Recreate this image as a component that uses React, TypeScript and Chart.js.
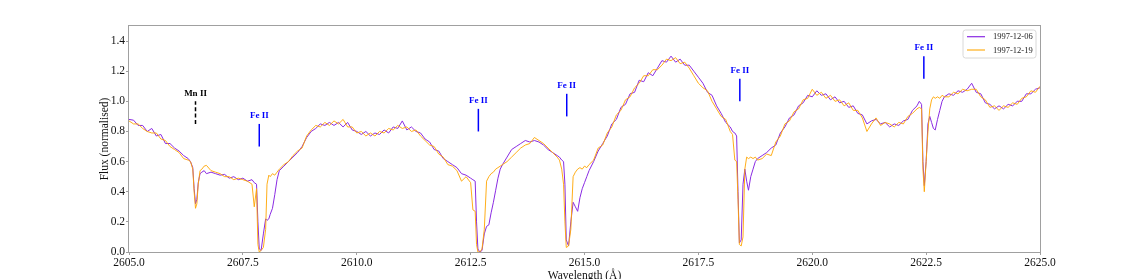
import { useEffect, useRef } from 'react';
import { Chart, registerables } from 'chart.js';

Chart.register(...registerables);

// Wavelength grid (Å)
const wavelength = [
  2605.0, 2605.1, 2605.2, 2605.3, 2605.4, 2605.5, 2605.6, 2605.7, 2605.8, 2605.9, 2606.0, 2606.1, 2606.2, 2606.3,
  2606.35, 2606.40, 2606.43, 2606.46, 2606.49, 2606.52, 2606.56, 2606.60, 2606.65, 2606.70,
  2606.8, 2606.9, 2607.0, 2607.1, 2607.2, 2607.3, 2607.4, 2607.5, 2607.6, 2607.7,
  2607.75, 2607.80, 2607.83, 2607.86, 2607.90, 2607.95, 2608.00, 2608.03, 2608.07, 2608.10, 2608.15, 2608.20, 2608.25, 2608.30,
  2608.4, 2608.5, 2608.6, 2608.7, 2608.8, 2608.9,
  2609.0, 2609.1, 2609.2, 2609.3, 2609.4, 2609.5, 2609.6, 2609.7, 2609.8, 2609.9,
  2610.0, 2610.1, 2610.2, 2610.3, 2610.4, 2610.5, 2610.6, 2610.7, 2610.8, 2610.9,
  2611.0, 2611.1, 2611.2, 2611.3, 2611.4, 2611.5, 2611.6, 2611.7, 2611.8, 2611.9,
  2612.0, 2612.1, 2612.2, 2612.3, 2612.4,
  2612.50, 2612.55, 2612.60, 2612.63, 2612.66, 2612.70, 2612.75, 2612.80, 2612.85, 2612.90, 2612.95, 2613.00, 2613.05, 2613.10, 2613.15, 2613.20,
  2613.3, 2613.4, 2613.5, 2613.6, 2613.7, 2613.8, 2613.9, 2614.0, 2614.1, 2614.2, 2614.3, 2614.4,
  2614.45, 2614.50, 2614.54, 2614.57, 2614.60, 2614.65, 2614.70, 2614.75, 2614.80, 2614.85, 2614.90, 2614.95, 2615.00, 2615.05, 2615.10, 2615.20,
  2615.3, 2615.4, 2615.5, 2615.6, 2615.7, 2615.8, 2615.9, 2616.0, 2616.1, 2616.2,
  2616.3, 2616.4, 2616.5, 2616.6, 2616.7, 2616.8, 2616.9, 2617.0, 2617.1, 2617.2,
  2617.3, 2617.4, 2617.5, 2617.6, 2617.7, 2617.8, 2617.9, 2618.0, 2618.1, 2618.2,
  2618.25, 2618.30, 2618.34, 2618.37, 2618.40, 2618.44, 2618.48, 2618.52, 2618.56, 2618.60, 2618.65, 2618.70, 2618.75, 2618.80, 2618.90,
  2619.0, 2619.1, 2619.2, 2619.3, 2619.4, 2619.5, 2619.6, 2619.7, 2619.8, 2619.9,
  2620.0, 2620.1, 2620.2, 2620.3, 2620.4, 2620.5, 2620.6, 2620.7, 2620.8, 2620.9,
  2621.0, 2621.1, 2621.2, 2621.3, 2621.4, 2621.5, 2621.6, 2621.7, 2621.8, 2621.9,
  2622.0, 2622.1, 2622.2, 2622.3,
  2622.35, 2622.40, 2622.43, 2622.46, 2622.50, 2622.54, 2622.58, 2622.62, 2622.66, 2622.70, 2622.75, 2622.80, 2622.85, 2622.90,
  2623.0, 2623.1, 2623.2, 2623.3, 2623.4, 2623.5, 2623.6, 2623.7, 2623.8, 2623.9,
  2624.0, 2624.1, 2624.2, 2624.3, 2624.4, 2624.5, 2624.6, 2624.7, 2624.8, 2624.9, 2625.0,
];

// Normalised flux, 1997-12-06 (purple)
const flux19971206 = [
  0.88, 0.875, 0.84, 0.84, 0.80, 0.82, 0.77, 0.78, 0.72, 0.72, 0.69, 0.67, 0.64, 0.62,
  0.60, 0.56, 0.42, 0.32, 0.35, 0.46, 0.52, 0.53, 0.54, 0.52,
  0.53, 0.52, 0.51, 0.515, 0.49, 0.50, 0.48, 0.49, 0.47, 0.48,
  0.46, 0.45, 0.20, 0.02, 0.01, 0.12, 0.22, 0.21, 0.22, 0.25, 0.29, 0.38, 0.48, 0.54,
  0.57, 0.60, 0.63, 0.66, 0.70, 0.76,
  0.80, 0.82, 0.85, 0.84, 0.86, 0.84, 0.86, 0.83, 0.86, 0.81,
  0.80, 0.78, 0.80, 0.77, 0.79, 0.78, 0.81, 0.79, 0.83, 0.82,
  0.87, 0.81, 0.83, 0.80, 0.79, 0.75, 0.73, 0.68, 0.67, 0.62,
  0.60, 0.58, 0.56, 0.52, 0.51,
  0.49, 0.48, 0.47, 0.20, 0.02, 0.00, 0.01, 0.12, 0.17, 0.18, 0.26, 0.33, 0.41, 0.49, 0.55, 0.58,
  0.63, 0.68, 0.70, 0.72, 0.74, 0.73, 0.74, 0.73, 0.71, 0.68, 0.66, 0.64,
  0.63, 0.61, 0.60, 0.45, 0.08, 0.04, 0.20, 0.33, 0.30, 0.27, 0.36, 0.42, 0.46, 0.50, 0.54, 0.60,
  0.67, 0.72, 0.77, 0.85, 0.88, 0.96, 0.98, 1.05, 1.06, 1.14,
  1.13, 1.19, 1.17, 1.22, 1.27, 1.26, 1.30, 1.26, 1.28, 1.24,
  1.24, 1.20, 1.16, 1.12, 1.06, 1.04, 0.97, 0.92, 0.86, 0.83,
  0.80, 0.79, 0.77, 0.40, 0.06, 0.08, 0.45, 0.55, 0.47, 0.41, 0.50, 0.55, 0.60, 0.62, 0.64,
  0.66, 0.69, 0.71, 0.79, 0.83, 0.89, 0.91, 0.97, 0.99, 1.04,
  1.03, 1.07, 1.04, 1.05, 1.01, 1.03, 0.99, 1.00, 0.96, 0.97,
  0.92, 0.91, 0.85, 0.87, 0.88, 0.85, 0.86, 0.83, 0.85, 0.84,
  0.87, 0.88, 0.94, 0.97,
  1.00, 0.98, 0.60, 0.44, 0.60, 0.85, 0.90, 0.86, 0.82, 0.81, 0.88, 0.94, 1.00, 1.03,
  1.05, 1.04, 1.07, 1.06, 1.08, 1.12, 1.06, 1.05, 0.99, 0.98,
  0.95, 0.97, 0.95, 0.98, 0.97, 1.00, 1.00, 1.05, 1.05, 1.08, 1.09,
];

// Normalised flux, 1997-12-19 (orange)
const flux19971219 = [
  0.87, 0.85, 0.85, 0.82, 0.80, 0.79, 0.79, 0.75, 0.74, 0.70, 0.68, 0.66, 0.62, 0.61,
  0.60, 0.55, 0.40, 0.29, 0.32, 0.45, 0.54, 0.55, 0.57, 0.575,
  0.54, 0.53, 0.52, 0.50, 0.50, 0.48, 0.49, 0.48, 0.47, 0.45,
  0.30, 0.42, 0.05, 0.00, 0.01, 0.03, 0.15, 0.45, 0.51, 0.50, 0.52, 0.51, 0.53, 0.55,
  0.58, 0.60, 0.64, 0.67, 0.69, 0.77,
  0.81, 0.84, 0.83, 0.86, 0.84, 0.87, 0.85, 0.88, 0.83, 0.83,
  0.79, 0.80, 0.77, 0.79, 0.77, 0.80, 0.79, 0.82, 0.81, 0.84,
  0.82, 0.83, 0.80, 0.81, 0.77, 0.74, 0.71, 0.70, 0.65, 0.63,
  0.58, 0.57, 0.54, 0.47, 0.50,
  0.46, 0.28, 0.27, 0.05, 0.00, 0.00, 0.02, 0.15, 0.47, 0.50, 0.52, 0.53, 0.55, 0.56, 0.57, 0.58,
  0.60, 0.63, 0.66, 0.69, 0.71, 0.72, 0.76, 0.74, 0.72, 0.69, 0.66, 0.63,
  0.61, 0.55, 0.45, 0.20, 0.03, 0.04, 0.15, 0.50, 0.53, 0.55, 0.56, 0.55, 0.57, 0.56, 0.58, 0.61,
  0.69, 0.71, 0.79, 0.83, 0.91, 0.94, 1.01, 1.03, 1.09, 1.12,
  1.17, 1.17, 1.21, 1.21, 1.24, 1.28, 1.27, 1.29, 1.25, 1.26,
  1.22, 1.17, 1.12, 1.09, 1.07, 1.00, 0.95, 0.90, 0.88, 0.80,
  0.78, 0.61, 0.60, 0.35, 0.05, 0.04, 0.10, 0.55, 0.63, 0.62, 0.63, 0.62, 0.63, 0.61, 0.62,
  0.65, 0.64, 0.73, 0.77, 0.85, 0.87, 0.93, 0.95, 1.01, 1.02,
  1.08, 1.04, 1.06, 1.02, 1.04, 1.00, 1.01, 0.97, 0.99, 0.94,
  0.94, 0.89, 0.80, 0.85, 0.89, 0.84, 0.86, 0.85, 0.83, 0.86,
  0.85, 0.90, 0.92, 0.95,
  0.96, 0.95, 0.55, 0.40, 0.60, 0.80, 0.95, 1.01, 1.03, 1.02, 1.03, 1.02, 1.04, 1.03,
  1.03, 1.06, 1.05, 1.08, 1.07, 1.08, 1.08, 1.03, 1.01, 0.96,
  0.97, 0.94, 0.97, 0.96, 0.99, 0.98, 1.02, 1.03, 1.07, 1.06, 1.10,
];

const seriesLabels = ['1997-12-06', '1997-12-19'];
const xTickValues = [2605.0, 2607.5, 2610.0, 2612.5, 2615.0, 2617.5, 2620.0, 2622.5, 2625.0];
const yTickValues = [0.0, 0.2, 0.4, 0.6, 0.8, 1.0, 1.2, 1.4];

// Line identifications
const lineIds = ['Mn II', 'Fe II', 'Fe II', 'Fe II', 'Fe II', 'Fe II'];
const lineWavelengths = [2606.46, 2607.86, 2612.67, 2614.61, 2618.41, 2622.45];
const markerLow = [0.85, 0.70, 0.80, 0.90, 1.00, 1.15];
const markerHigh = [1.00, 0.85, 0.95, 1.05, 1.15, 1.30];

const PURPLE = '#8a2be2';
const ORANGE = 'rgba(255,165,0,0.9)';
const FONT = "'Liberation Serif', 'Times New Roman', serif";

export default function App() {
  const ref = useRef<HTMLCanvasElement | null>(null);

  useEffect(() => {
    const canvas = ref.current;
    if (!canvas) return;

    const overlay = {
      id: 'overlay',
      afterDraw(chart: any) {
        const ctx = chart.ctx as CanvasRenderingContext2D;
        const { left, right, top, bottom } = chart.chartArea;
        const xs = chart.scales.x;
        const ys = chart.scales.y;
        ctx.save();
        // spines
        ctx.strokeStyle = '#a0a0a0';
        ctx.lineWidth = 1;
        ctx.strokeRect(left - 0.5, top - 0.5, right - left + 1, bottom - top + 1);

        // line identifications
        for (let i = 0; i < lineIds.length; i++) {
          const x = xs.getPixelForValue(lineWavelengths[i]);
          const y1 = ys.getPixelForValue(markerLow[i]);
          const y2 = ys.getPixelForValue(markerHigh[i]);
          const isMn = lineIds[i].startsWith('Mn');
          const col = isMn ? '#000000' : '#0000ff';
          ctx.beginPath();
          ctx.strokeStyle = col;
          ctx.lineWidth = 1.5;
          ctx.setLineDash(isMn ? [4, 2.4] : []);
          ctx.moveTo(x, y1);
          ctx.lineTo(x, y2);
          ctx.stroke();
          ctx.setLineDash([]);
          ctx.fillStyle = col;
          ctx.font = `bold 9px ${FONT}`;
          ctx.textAlign = 'center';
          ctx.textBaseline = 'middle';
          ctx.fillText(lineIds[i], x, y2 - 8);
        }

        // legend
        const lx = 963, ly = 30, lw = 73, lh = 28;
        ctx.beginPath();
        const r = 2.5;
        ctx.moveTo(lx + r, ly);
        ctx.lineTo(lx + lw - r, ly);
        ctx.quadraticCurveTo(lx + lw, ly, lx + lw, ly + r);
        ctx.lineTo(lx + lw, ly + lh - r);
        ctx.quadraticCurveTo(lx + lw, ly + lh, lx + lw - r, ly + lh);
        ctx.lineTo(lx + r, ly + lh);
        ctx.quadraticCurveTo(lx, ly + lh, lx, ly + lh - r);
        ctx.lineTo(lx, ly + r);
        ctx.quadraticCurveTo(lx, ly, lx + r, ly);
        ctx.closePath();
        ctx.fillStyle = 'rgba(255,255,255,0.85)';
        ctx.fill();
        ctx.strokeStyle = '#d8d8d8';
        ctx.lineWidth = 1;
        ctx.stroke();
        const colors = [PURPLE, ORANGE];
        const rowY = [36.7, 50];
        ctx.font = `8.5px ${FONT}`;
        ctx.textAlign = 'left';
        ctx.textBaseline = 'middle';
        for (let i = 0; i < seriesLabels.length; i++) {
          ctx.beginPath();
          ctx.strokeStyle = colors[i];
          ctx.lineWidth = 1.2;
          ctx.moveTo(967, rowY[i]);
          ctx.lineTo(985, rowY[i]);
          ctx.stroke();
          ctx.fillStyle = '#222';
          ctx.fillText(seriesLabels[i], 993, rowY[i] + 0.5);
        }

        // axis titles
        ctx.fillStyle = '#111';
        ctx.font = `11.5px ${FONT}`;
        ctx.textAlign = 'center';
        ctx.textBaseline = 'alphabetic';
        ctx.fillText('Wavelength (Å)', (left + right) / 2, 279);
        ctx.save();
        ctx.translate(108, (top + bottom) / 2);
        ctx.rotate(-Math.PI / 2);
        ctx.textBaseline = 'alphabetic';
        ctx.fillText('Flux (normalised)', 0, 0);
        ctx.restore();
        ctx.restore();
      },
    };

    const chart = new Chart(canvas, {
      type: 'line',
      data: {
        datasets: [
          {
            label: seriesLabels[1],
            data: wavelength.map((x, i) => ({ x, y: flux19971219[i] })),
            borderColor: ORANGE,
            borderWidth: 1,
            pointRadius: 0,
            fill: false,
            order: 0,
          },
          {
            label: seriesLabels[0],
            data: wavelength.map((x, i) => ({ x, y: flux19971206[i] })),
            borderColor: PURPLE,
            borderWidth: 1,
            pointRadius: 0,
            fill: false,
            order: 1,
          },
        ],
      },
      options: {
        responsive: false,
        animation: false,
        devicePixelRatio: 1,
        layout: { padding: { left: 0, right: 100, top: 26, bottom: 0 } },
        elements: { line: { tension: 0 } },
        plugins: { legend: { display: false }, tooltip: { enabled: false } },
        scales: {
          x: {
            type: 'linear',
            min: 2605,
            max: 2625,
            afterBuildTicks: (s: any) => {
              s.ticks = xTickValues.map((v) => ({ value: v }));
            },
            afterFit: (s: any) => {
              s.height = 27;
            },
            grid: { drawOnChartArea: false, drawTicks: true, tickLength: 3, color: '#a0a0a0' },
            border: { display: false },
            ticks: {
              callback: (v: any) => Number(v).toFixed(1),
              font: { family: FONT, size: 11.5 },
              color: '#111',
              padding: 1,
              maxRotation: 0,
              autoSkip: false,
            },
          },
          y: {
            type: 'linear',
            min: 0,
            max: 1.5,
            afterBuildTicks: (s: any) => {
              s.ticks = yTickValues.map((v) => ({ value: v }));
            },
            afterFit: (s: any) => {
              s.width = 129;
            },
            grid: { drawOnChartArea: false, drawTicks: true, tickLength: 3, color: '#a0a0a0' },
            border: { display: false },
            ticks: {
              callback: (v: any) => Number(v).toFixed(1),
              font: { family: FONT, size: 11.5 },
              color: '#111',
              padding: 1,
              autoSkip: false,
            },
          },
        },
      },
      plugins: [overlay],
    });

    return () => chart.destroy();
  }, []);

  return (
    <div style={{ position: 'fixed', left: 0, top: 0, width: 1140, height: 279, background: '#fff' }}>
      <canvas ref={ref} width={1140} height={279} style={{ display: 'block' }} />
    </div>
  );
}
